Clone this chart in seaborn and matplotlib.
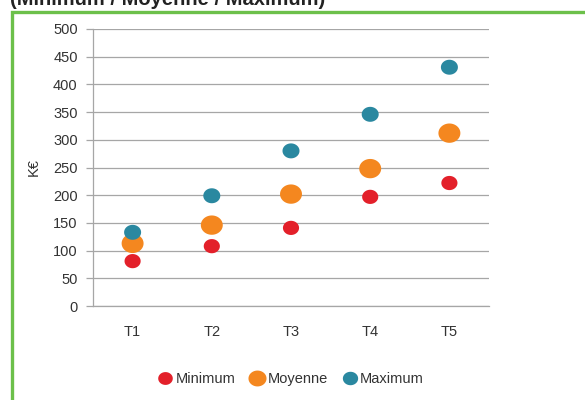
import numpy as np
import pandas as pd
import matplotlib
matplotlib.use("Agg")
import matplotlib.pyplot as plt
from matplotlib.path import Path
from matplotlib.patches import Rectangle
import seaborn as sns

# Data (K€ per period)
periods = ["T1", "T2", "T3", "T4", "T5"]
minimum = [81, 108, 141, 197, 222]
moyenne = [113, 146, 202, 248, 312]
maximum = [133, 199, 280, 346, 431]
series_names = ["Minimum", "Moyenne", "Maximum"]
series_colors = ["#E3202A", "#F4871F", "#2A88A0"]
series_sizes = [135, 250, 150]
y_ticks = [0, 50, 100, 150, 200, 250, 300, 350, 400, 450, 500]

df = pd.DataFrame({
    "Période": periods * 3,
    "K€": minimum + moyenne + maximum,
    "Série": [s for s in series_names for _ in periods],
})

sns.set_theme(style="white")
plt.rcParams["font.family"] = ["Liberation Sans", "DejaVu Sans"]

fig = plt.figure(figsize=(5.85, 4.0), dpi=100)
ax = fig.add_axes([93 / 585, 1 - 306 / 400, (489 - 93) / 585, (306 - 29) / 400])

# Slightly flattened round marker
t = np.linspace(0, 2 * np.pi, 60)
ellipse = Path(np.column_stack([np.cos(t), 0.88 * np.sin(t)]), closed=True)

df["x"] = df["Période"].map({p: i for i, p in enumerate(periods)})
sns.scatterplot(
    data=df, x="x", y="K€", hue="Série", size="Série",
    palette=dict(zip(series_names, series_colors)),
    sizes=dict(zip(series_names, series_sizes)),
    hue_order=series_names, size_order=series_names,
    marker=ellipse, linewidth=0, alpha=1, ax=ax, zorder=3,
)

grid_c = "#A6A6A6"
text_c = "#333333"
fs = 10.5
ax.set_xlim(-0.5, len(periods) - 0.5)
ax.set_ylim(0, 500)
ax.set_yticks(y_ticks)
ax.set_yticklabels([str(v) for v in y_ticks])
ax.set_xticks(range(len(periods)))
ax.set_xticklabels(periods)
ax.set_xticks(np.arange(-0.5, len(periods)), minor=True)
ax.tick_params(axis="x", which="major", length=0, pad=14, labelsize=fs, colors=text_c)
ax.tick_params(axis="x", which="minor", length=5, width=0.9, color=grid_c, direction="out")
ax.tick_params(axis="y", length=5, width=0.9, color=grid_c, direction="out", pad=6,
               labelsize=fs, labelcolor=text_c, left=True)
ax.yaxis.grid(True, color=grid_c, linewidth=0.9)
ax.xaxis.grid(False)
ax.set_axisbelow(True)
for side in ["top", "right"]:
    ax.spines[side].set_visible(False)
for side in ["left", "bottom"]:
    ax.spines[side].set_color(grid_c)
    ax.spines[side].set_linewidth(0.9)
ax.set_xlabel("")
ax.set_ylabel("K€", fontsize=fs, color=text_c, labelpad=9)

# Legend below the plot
handles, labels = ax.get_legend_handles_labels()
ax.legend_.remove()
leg_sizes = {"Minimum": 10.5, "Moyenne": 13, "Maximum": 11}
for h, lab in zip(handles, labels):
    h.set_markersize(leg_sizes[lab])
fig.legend(handles, labels, loc="center", bbox_to_anchor=(291 / 585, 1 - 379 / 400),
           ncol=3, frameon=False, fontsize=fs, handletextpad=0.2,
           columnspacing=1.0, handlelength=1.0, labelcolor=text_c)

# Heading (runs off the top edge) and green frame
fig.text(10 / 585, 1 - 5 / 400, "(Minimum / Moyenne / Maximum)", fontsize=14.5,
         fontweight="bold", color="#222222", ha="left", va="baseline")
fig.patches.append(Rectangle((11.5 / 585, -0.2), 1.2, 1 - 11.5 / 400 + 0.2,
                             transform=fig.transFigure, fill=False,
                             edgecolor="#6CC04A", linewidth=2.4))

fig.savefig("out.png", dpi=100)
